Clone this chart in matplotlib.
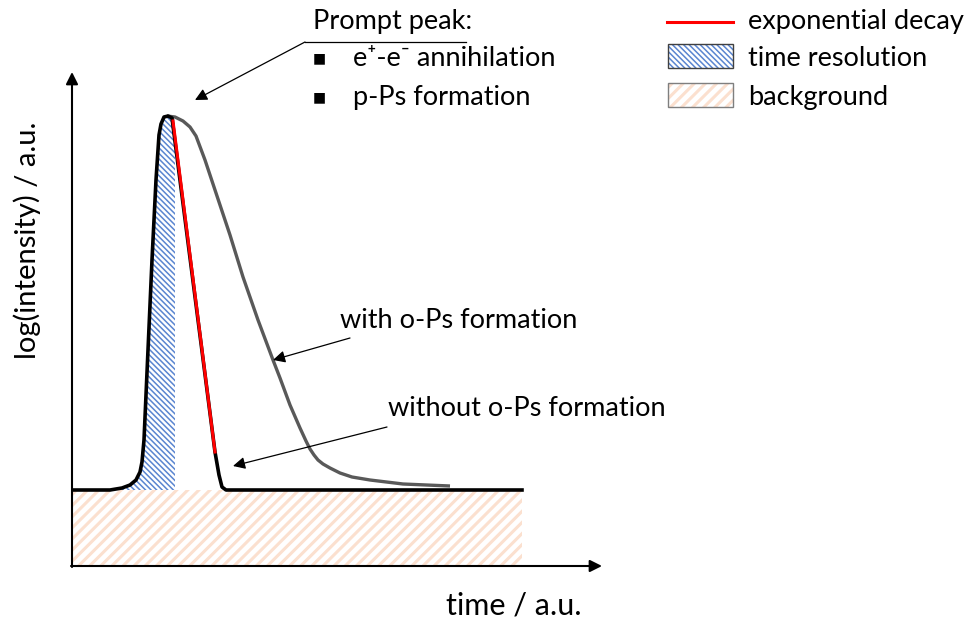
import matplotlib.pyplot as plt
from matplotlib.patches import Rectangle, Polygon

plt.rcParams['font.family'] = ['Lato', 'DejaVu Sans']

# schematic drawn in picture units (x right, y down)
no_ops_x = [73, 110, 122, 130, 136, 140, 142, 144, 148, 152, 156, 159, 161, 164, 168, 172, 215, 219, 222, 226, 522]
no_ops_y = [490, 490, 488, 485, 480, 472, 462, 440, 350, 260, 180, 135, 124, 117, 116, 118, 452, 475, 487, 490, 490]

decay_x = [173, 215]
decay_y = [121, 452]

ops_x = [167, 175, 183, 190, 196, 205, 215, 230, 243, 258, 273, 280, 290, 300, 306, 310, 314, 318, 323, 330, 340, 352, 370, 403, 450]
ops_y = [116, 117, 121, 127, 136, 160, 190, 235, 277, 320, 360, 378, 405, 428, 441, 449, 455, 460, 464, 468, 473, 477, 480, 484, 486]

res_right = 175
baseline = 490
bg_x0, bg_x1, bg_y1 = 73, 522, 566

legend_labels = ['exponential decay', 'time resolution', 'background']
bullets = ['e\u207a-e\u207b annihilation', 'p-Ps formation']

fig = plt.figure(figsize=(9.72, 6.23), dpi=100)
ax = fig.add_axes([0, 0, 1, 1])
ax.set_xlim(0, 972)
ax.set_ylim(623, 0)
ax.axis('off')

blue = '#4472c4'
peach = '#fbe0cf'
fs = 19.5

# background
bg = Rectangle((bg_x0, baseline), bg_x1 - bg_x0, bg_y1 - baseline,
               facecolor='white', edgecolor=peach, hatch='///', lw=0)
bg.set_hatch_linewidth(2.2)
ax.add_patch(bg)

# time resolution area
pts = [(x, y) for x, y in zip(no_ops_x, no_ops_y) if 120 <= x <= 168]
pts = [(120, baseline)] + pts + [(res_right, 120), (res_right, baseline)]
tr = Polygon(pts, closed=True, facecolor='white', edgecolor='#5a85d0',
             hatch='\\' * 6, lw=0)
tr.set_hatch_linewidth(1.1)
ax.add_patch(tr)

# curves
ax.plot(ops_x, ops_y, color='#595959', lw=2.4, solid_capstyle='butt', solid_joinstyle='round')
ax.plot(no_ops_x, no_ops_y, color='black', lw=2.6, solid_joinstyle='round')
ax.plot(decay_x, decay_y, color='red', lw=2.2)

# axes arrows
arr = dict(arrowstyle='-|>', color='black', lw=1.5, mutation_scale=18, shrinkA=0, shrinkB=0)
ax.annotate('', xy=(72, 72), xytext=(72, 567), arrowprops=arr)
ax.annotate('', xy=(602, 566), xytext=(71, 566), arrowprops=arr)
ax.text(27, 240, 'log(intensity) / a.u.', rotation=90, ha='center', va='center', fontsize=21)
ax.text(514, 606, 'time / a.u.', ha='center', va='center', fontsize=22)

# annotations
ann = dict(arrowstyle='-|>', color='black', lw=0.9, mutation_scale=18, shrinkA=0, shrinkB=0)
ax.annotate('', xy=(195, 100), xytext=(305, 42), arrowprops=ann)
ax.plot([305, 466], [42, 42], color='black', lw=0.9)
ax.text(313, 22, 'Prompt peak:', ha='left', va='center', fontsize=fs)
for i, t in enumerate(bullets):
    ax.text(313, 58 + 39 * i, '\u25a0', ha='left', va='center', fontsize=10)
    ax.text(353, 58 + 39 * i, t, ha='left', va='center', fontsize=fs)

ax.annotate('', xy=(273, 360), xytext=(350, 338), arrowprops=ann)
ax.text(340, 321, 'with o-Ps formation', ha='left', va='center', fontsize=fs)
ax.annotate('', xy=(233, 466), xytext=(387, 427), arrowprops=ann)
ax.text(388, 409, 'without o-Ps formation', ha='left', va='center', fontsize=fs)

# legend
ax.plot([667, 733], [22, 22], color='red', lw=2.2)
lb = Rectangle((668, 44), 65, 24, facecolor='white', edgecolor='#5a85d0', hatch='\\' * 6, lw=0)
lb.set_hatch_linewidth(1.1)
ax.add_patch(lb)
ax.add_patch(Rectangle((668, 44), 65, 24, fill=False, edgecolor='#404040', lw=1))
lp = Rectangle((668, 83), 65, 24, facecolor='white', edgecolor=peach, hatch='///', lw=0)
lp.set_hatch_linewidth(2.2)
ax.add_patch(lp)
ax.add_patch(Rectangle((668, 83), 65, 24, fill=False, edgecolor='#7f7f7f', lw=1))
for i, t in enumerate(legend_labels):
    ax.text(748, 21 + 38 * i, t, ha='left', va='center', fontsize=fs)

fig.savefig('out.png', dpi=100)
